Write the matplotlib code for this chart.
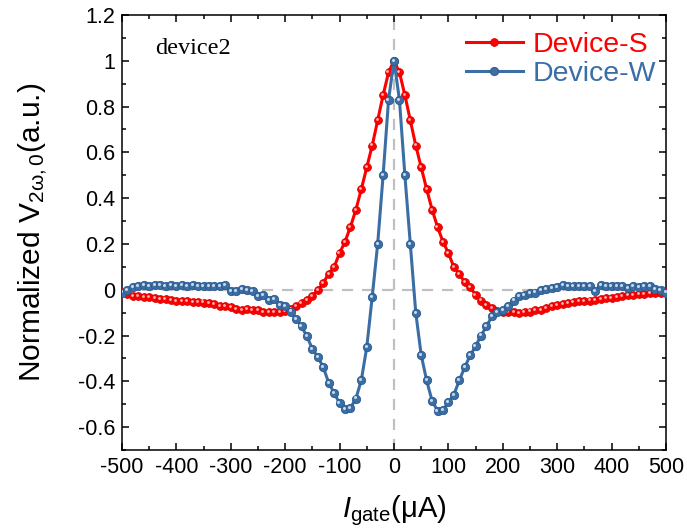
import matplotlib
matplotlib.use("Agg")
import matplotlib.pyplot as plt
import matplotlib.transforms as mtransforms
from matplotlib.ticker import MultipleLocator, FuncFormatter
import numpy as np

plt.rcParams['font.family'] = ['Liberation Sans', 'DejaVu Sans']
plt.rcParams['mathtext.fontset'] = 'custom'
plt.rcParams['mathtext.rm'] = 'Liberation Sans'
plt.rcParams['mathtext.it'] = 'Liberation Sans:italic'
plt.rcParams['axes.unicode_minus'] = False

# gate current (uA), 10 uA steps
i_gate = np.arange(-500, 501, 10)

device_s = [
    -0.010, -0.020, -0.026, -0.028, -0.030, -0.033, -0.036, -0.040, -0.042, -0.045,
    -0.048, -0.050, -0.051, -0.053, -0.055, -0.056, -0.058, -0.064, -0.070, -0.073,
    -0.076, -0.084, -0.090, -0.084, -0.090, -0.087, -0.097, -0.099, -0.099, -0.099,
    -0.094, -0.084, -0.070, -0.058, -0.044, -0.026, -0.003, 0.030, 0.070, 0.100,
    0.160, 0.210, 0.275, 0.350, 0.440, 0.535, 0.630, 0.740, 0.850, 0.950,
    1.000,
    0.950, 0.850, 0.740, 0.630, 0.535, 0.440, 0.350, 0.275, 0.210, 0.160,
    0.100, 0.070, 0.032, 0.010, -0.022, -0.047, -0.065, -0.080, -0.092, -0.099,
    -0.099, -0.099, -0.102, -0.097, -0.095, -0.090, -0.087, -0.080, -0.073, -0.066,
    -0.062, -0.058, -0.055, -0.051, -0.049, -0.047, -0.044, -0.041, -0.038, -0.036,
    -0.032, -0.029, -0.025, -0.022, -0.019, -0.017, -0.016, -0.015, -0.013, -0.010,
]

device_w = [
    -0.012, 0.000, 0.010, 0.015, 0.020, 0.018, 0.020, 0.020, 0.018, 0.020,
    0.017, 0.020, 0.018, 0.020, 0.017, 0.017, 0.017, 0.017, 0.015, 0.021,
    -0.007, -0.007, 0.003, 0.000, -0.007, -0.026, -0.022, -0.044, -0.040, -0.066,
    -0.073, -0.095, -0.128, -0.160, -0.204, -0.259, -0.294, -0.338, -0.407, -0.451,
    -0.496, -0.523, -0.517, -0.475, -0.394, -0.250, -0.030, 0.200, 0.500, 0.830,
    1.000,
    0.830, 0.500, 0.200, -0.100, -0.285, -0.396, -0.485, -0.528, -0.527, -0.492,
    -0.459, -0.396, -0.339, -0.287, -0.247, -0.200, -0.160, -0.116, -0.099, -0.087,
    -0.073, -0.047, -0.029, -0.022, -0.015, -0.012, -0.003, 0.003, 0.007, 0.012,
    0.022, 0.018, 0.017, 0.017, 0.017, 0.017, -0.007, 0.022, 0.017, 0.015,
    0.015, 0.015, 0.007, 0.017, 0.012, 0.017, 0.015, 0.003, -0.003, -0.012,
]

red = '#ff0000'
blue = '#3a6ea5'

fig = plt.figure(figsize=(6.87, 5.29), dpi=100)
ax = fig.add_axes([0.1776, 0.1493, 0.7918, 0.8223])

ax.axhline(0, color='#c0c0c0', lw=1.6, ls=(0, (5, 4)), zorder=1)
ax.axvline(0, color='#c0c0c0', lw=1.6, ls=(0, (5, 4)), zorder=1)

# small light highlight on each marker, like a shaded sphere
shine = mtransforms.offset_copy(ax.transData, fig=fig, x=-0.8, y=0.8, units='points')

ax.plot(i_gate, device_s, '-o', color=red, lw=2.2, ms=5.6,
        mfc=red, mec='#d80000', mew=0.6, label='Device-S', zorder=3)
ax.plot(i_gate, device_s, 'o', color='#ffb8b8', ms=2.0, mew=0,
        transform=shine, zorder=3.1)
ax.plot(i_gate, device_w, '-o', color=blue, lw=2.2, ms=6.0,
        mfc=blue, mec='#2b5a8c', mew=0.6, label='Device-W', zorder=4)
ax.plot(i_gate, device_w, 'o', color='#c8d8ea', ms=2.2, mew=0,
        transform=shine, zorder=4.1)

ax.set_xlim(-500, 500)
ax.set_ylim(-0.7, 1.2)
ax.xaxis.set_major_locator(MultipleLocator(100))
ax.xaxis.set_minor_locator(MultipleLocator(50))
ax.yaxis.set_major_locator(MultipleLocator(0.2))
ax.yaxis.set_minor_locator(MultipleLocator(0.1))
ax.yaxis.set_major_formatter(FuncFormatter(lambda v, p: '%g' % round(v, 2)))
ax.xaxis.set_major_formatter(FuncFormatter(lambda v, p: '%g' % v))

ax.tick_params(which='both', direction='in', top=True, right=True, width=1.1)
ax.tick_params(which='major', length=5, labelsize=15.5, pad=5)
ax.tick_params(which='minor', length=3)
for sp in ax.spines.values():
    sp.set_linewidth(1.1)

ax.set_xlabel(r'$I_{\mathrm{gate}}$(μA)', fontsize=21)
ax.set_ylabel(r'Normalized V$_{2\mathrm{\omega},0}$(a.u.)', fontsize=21.5)
ax.xaxis.set_label_coords(0.5, -0.1)
ax.yaxis.set_label_coords(-0.135, 0.5)

ax.text(0.06, 0.922, 'device2', transform=ax.transAxes, fontsize=17.5,
        family='Liberation Serif', va='center')

leg = ax.legend(loc='upper right', bbox_to_anchor=(0.99, 0.97), frameon=False,
                fontsize=20.5, handlelength=2.0, handletextpad=0.35,
                labelspacing=0.1, borderaxespad=0.0, borderpad=0.15)
for txt, c in zip(leg.get_texts(), [red, blue]):
    txt.set_color(c)
for h in leg.legend_handles:
    h.set_markevery([1])

fig.savefig('out.png', dpi=100)
